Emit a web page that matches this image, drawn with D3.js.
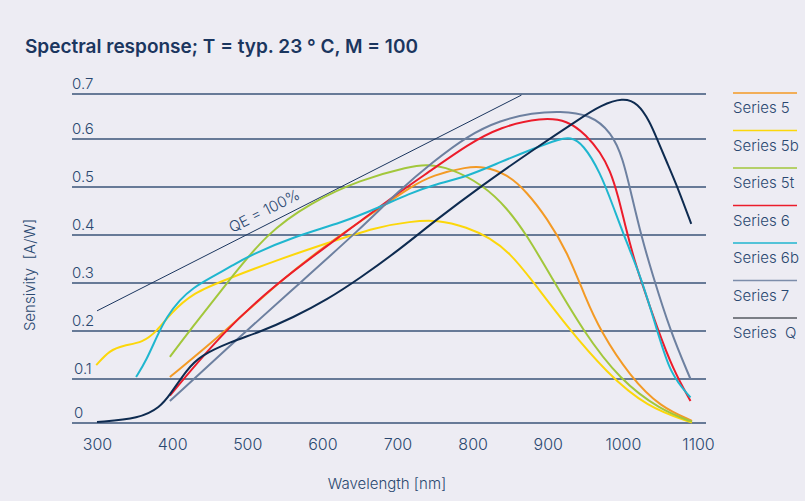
<!DOCTYPE html>
<html>
<head>
<meta charset="utf-8">
<script src="https://cdn.jsdelivr.net/npm/d3@7"></script>
<style>
  html, body { margin: 0; padding: 0; background: #edecf3; }
  svg { display: block; font-family: Inter, "Open Sans", sans-serif; }
</style>
</head>
<body>
<svg id="chart"></svg>
<script>
// values: [wavelength nm, sensitivity A/W]
const series5 = [[397,0.104],[473,0.202],[540,0.3],[614,0.39],[673,0.452],[717,0.5],[747,0.525],[793,0.542],[814,0.543],[846,0.527],[872,0.49],[899,0.435],[926,0.365],[950,0.27],[970,0.2],[1010,0.104],[1050,0.036],[1092,0.005]];
const series5b = [[299,0.129],[317,0.16],[335,0.17],[361,0.176],[380,0.2],[397,0.235],[428,0.28],[473,0.308],[540,0.348],[606,0.383],[673,0.417],[717,0.428],[753,0.432],[793,0.416],[823,0.394],[850,0.362],[877,0.31],[926,0.208],[979,0.112],[1032,0.036],[1092,0.001]];
const series5t = [[397,0.146],[424,0.202],[473,0.3],[526,0.404],[584,0.467],[650,0.515],[717,0.543],[739,0.547],[770,0.54],[814,0.504],[846,0.456],[872,0.4],[904,0.315],[947,0.2],[996,0.098],[1050,0.03],[1092,0.003]];
const series6 = [[397,0.0625],[470,0.202],[540,0.3],[600,0.37],[650,0.428],[703,0.49],[747,0.537],[793,0.588],[837,0.627],[892,0.648],[926,0.642],[952,0.608],[970,0.572],[983,0.535],[994,0.48],[1003,0.42],[1014,0.355],[1023,0.31],[1046,0.205],[1067,0.119],[1090,0.05]];
const series6b = [[352,0.104],[366,0.14],[380,0.19],[393,0.23],[410,0.265],[428,0.29],[450,0.31],[481,0.337],[504,0.358],[561,0.396],[628,0.427],[673,0.456],[717,0.487],[747,0.504],[793,0.522],[837,0.552],[881,0.58],[916,0.6],[930,0.604],[947,0.59],[970,0.53],[987,0.46],[1006,0.38],[1023,0.317],[1046,0.2],[1063,0.11],[1090,0.058]];
const series7 = [[397,0.05],[500,0.202],[570,0.3],[650,0.412],[703,0.494],[747,0.552],[793,0.607],[837,0.642],[880,0.658],[916,0.662],[956,0.655],[985,0.615],[1000,0.56],[1012,0.48],[1025,0.395],[1039,0.32],[1063,0.2],[1090,0.1]];
const seriesQ = [[300,0.002],[357,0.01],[384,0.036],[397,0.064],[420,0.12],[437,0.148],[477,0.177],[517,0.198],[561,0.228],[606,0.265],[650,0.31],[703,0.37],[750,0.43],[814,0.505],[880,0.577],[947,0.65],[970,0.674],[1000,0.692],[1020,0.68],[1036,0.638],[1045,0.602],[1059,0.55],[1074,0.495],[1091,0.423]];

const seriesNames = ['Series 5', 'Series 5b', 'Series 5t', 'Series 6', 'Series 6b', 'Series 7', 'Series  Q'];
const seriesData = [series5, series5b, series5t, series6, series6b, series7, seriesQ];
const lineColors = ['#f39a25', '#fcd70a', '#a2c73b', '#ec1c2b', '#1fb6cf', '#6d80a0', '#0e2b50'];
const legendColors = ['#f39a25', '#fcd70a', '#a2c73b', '#ec1c2b', '#1fb6cf', '#7d8daa', '#555a60'];

const xTicks = [300, 400, 500, 600, 700, 800, 900, 1000, 1100];
const yTicks = [0, 0.1, 0.2, 0.3, 0.4, 0.5, 0.6, 0.7];
const qeRange = [300, 865]; // QE = 100% : R = lambda / 1240

const width = 805, height = 501;
const textColor = '#2a4870';

const svg = d3.select('#chart').attr('width', width).attr('height', height);
svg.append('rect').attr('width', width).attr('height', height).attr('fill', '#edecf3');

const x = d3.scaleLinear().domain([300, 1100]).range([97, 698]);
// the printed grid is not quite evenly spaced
const y = d3.scaleLinear().domain(yTicks).range([423, 379, 331, 283, 235, 187, 139, 94]);

svg.append('text')
  .attr('x', 25).attr('y', 53)
  .attr('fill', '#1b365f')
  .attr('font-size', 19).attr('font-weight', 600)
  .text('Spectral response; T = typ. 23 ° C, M = 100');

// grid + y labels
const grid = svg.append('g');
grid.selectAll('line')
  .data(yTicks)
  .enter()
  .append('line')
  .attr('x1', 72).attr('x2', 706)
  .attr('y1', d => y(d)).attr('y2', d => y(d))
  .attr('stroke', '#3a5478')
  .attr('stroke-width', 1.4);

grid.selectAll('text')
  .data(yTicks)
  .enter()
  .append('text')
  .attr('x', d => d < 0.2 ? 74 : 72)
  .attr('y', d => y(d) - 5)
  .attr('fill', textColor)
  .attr('font-size', 15).attr('font-weight', 300)
  .text(d => d === 0 ? '0' : d.toFixed(1));

// x axis labels
const xAxis = svg.append('g')
  .attr('transform', `translate(0,${y(0)})`)
  .call(d3.axisBottom(x).tickValues(xTicks).tickSize(0).tickPadding(16).tickFormat(d3.format('d')));
xAxis.select('.domain').remove();
xAxis.selectAll('text')
  .attr('fill', textColor)
  .attr('font-size', 16).attr('font-weight', 300)
  .attr('font-family', 'Inter, sans-serif');

svg.append('text')
  .attr('x', 387).attr('y', 489)
  .attr('text-anchor', 'middle')
  .attr('fill', textColor)
  .attr('font-size', 15).attr('font-weight', 300)
  .text('Wavelength [nm]');

svg.append('text')
  .attr('transform', 'translate(35,275) rotate(-90)')
  .attr('text-anchor', 'middle')
  .attr('fill', textColor)
  .attr('font-size', 15).attr('font-weight', 300)
  .style('white-space', 'pre')
  .text('Sensivity  [A/W]');

// QE = 100% reference line
const qe = qeRange.map(l => [x(l), y(l / 1240)]);
svg.append('line')
  .attr('x1', qe[0][0]).attr('y1', qe[0][1])
  .attr('x2', qe[1][0]).attr('y2', qe[1][1])
  .attr('stroke', '#1b365f')
  .attr('stroke-width', 1);

const qeAngle = Math.atan2(qe[1][1] - qe[0][1], qe[1][0] - qe[0][0]) * 180 / Math.PI;
const qeLabelNm = 530;
svg.append('text')
  .attr('transform', `translate(${x(qeLabelNm)},${y(qeLabelNm / 1240)}) rotate(${qeAngle})`)
  .attr('dy', -7)
  .attr('text-anchor', 'middle')
  .attr('fill', textColor)
  .attr('font-size', 15).attr('font-weight', 300)
  .text('QE = 100%');

// curves
const line = d3.line()
  .x(d => x(d[0]))
  .y(d => y(d[1]))
  .curve(d3.curveBasis);

svg.append('g').selectAll('path')
  .data(seriesData)
  .enter()
  .append('path')
  .attr('d', d => line(d))
  .attr('fill', 'none')
  .attr('stroke', (d, i) => lineColors[i])
  .attr('stroke-width', 2);

// legend
const legend = svg.append('g').attr('transform', 'translate(733,93)');
const item = legend.selectAll('g')
  .data(seriesNames)
  .enter()
  .append('g')
  .attr('transform', (d, i) => `translate(0,${i * 37.5})`);

item.append('line')
  .attr('x1', 0).attr('x2', 64)
  .attr('stroke', (d, i) => legendColors[i])
  .attr('stroke-width', 1.5);

item.append('text')
  .attr('x', 0).attr('y', 20)
  .attr('fill', textColor)
  .attr('font-size', 15).attr('font-weight', 300)
  .style('white-space', 'pre')
  .text(d => d);
</script>
</body>
</html>
